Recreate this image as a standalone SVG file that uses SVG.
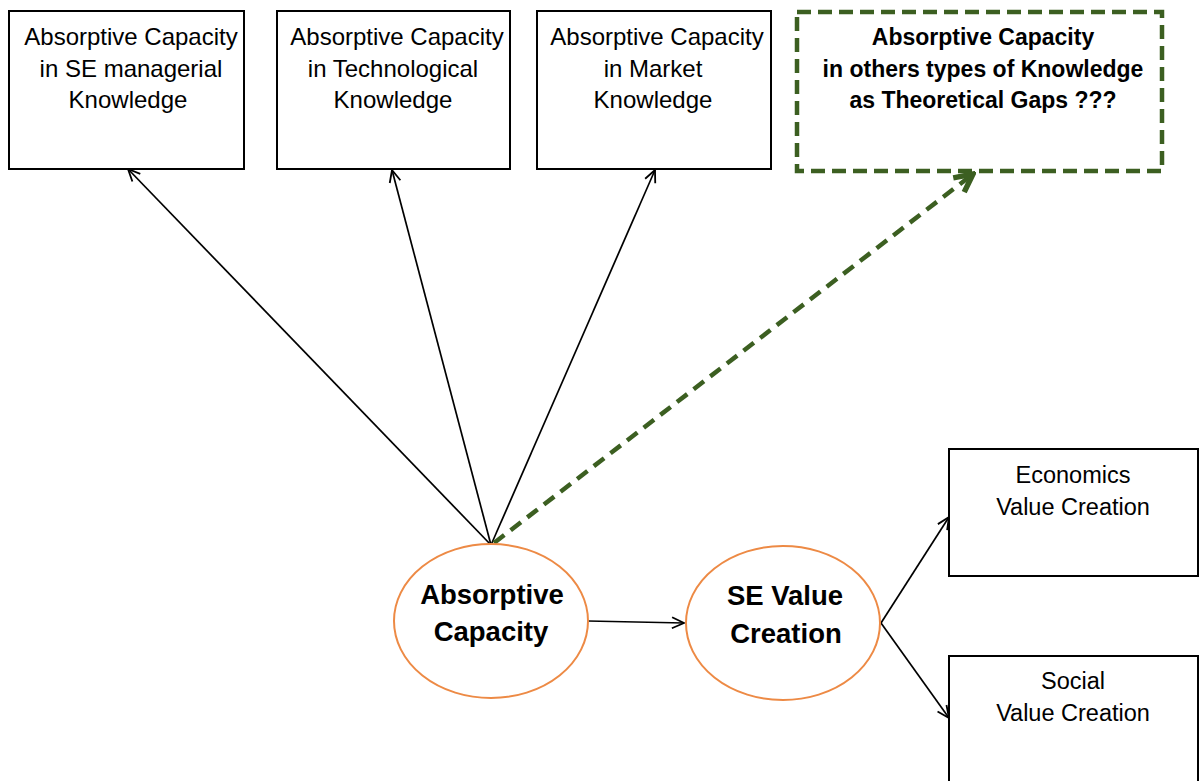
<svg xmlns="http://www.w3.org/2000/svg" width="1204" height="781" viewBox="0 0 1204 781">
<style>
.box{fill:#fff;stroke:#000;stroke-width:2}
.gap{fill:#fff;stroke:#3c5f21;stroke-width:4.5;stroke-dasharray:14,7}
.ell{fill:#fff;stroke:#ed8a45;stroke-width:2}
.t{font-family:"Liberation Sans",Arial,sans-serif;font-size:24px;fill:#000;text-anchor:middle}
.t2{font-family:"Liberation Sans",Arial,sans-serif;font-size:23.5px;fill:#000;text-anchor:middle}
.tb{font-family:"Liberation Sans",Arial,sans-serif;font-size:23px;font-weight:bold;fill:#000;text-anchor:middle}
.te{font-family:"Liberation Sans",Arial,sans-serif;font-size:27.5px;font-weight:bold;fill:#000;text-anchor:middle}
.c{stroke:#000;stroke-width:1.7;fill:none}
.g{stroke:#3c5f21;stroke-width:4.5;fill:none;stroke-dasharray:13,8}
</style>
<defs>
<marker id="ah" viewBox="0 0 14 14" refX="13" refY="7" markerWidth="14" markerHeight="14" markerUnits="userSpaceOnUse" orient="auto">
<path d="M1,1.5 L13,7 L1,12.5" fill="none" stroke="#000" stroke-width="1.8"/>
</marker>
<marker id="gh" viewBox="0 0 24 24" refX="21" refY="12" markerWidth="24" markerHeight="24" markerUnits="userSpaceOnUse" orient="auto">
<path d="M3,3 L21,12 L3,21" fill="none" stroke="#3c5f21" stroke-width="5.5"/>
</marker>
</defs>
<rect width="1204" height="781" fill="#fff"/>
<g id="connectors">
<line class="c" x1="491" y1="545" x2="128" y2="169" marker-end="url(#ah)"/>
<line class="c" x1="491" y1="545" x2="392" y2="170" marker-end="url(#ah)"/>
<line class="c" x1="491" y1="545" x2="655" y2="170" marker-end="url(#ah)"/>
<line class="g" x1="494" y1="543" x2="973" y2="174" marker-end="url(#gh)"/>
<line class="c" x1="588" y1="621" x2="684" y2="623" marker-end="url(#ah)"/>
<line class="c" x1="881" y1="623" x2="949" y2="517" marker-end="url(#ah)"/>
<line class="c" x1="881" y1="623" x2="949" y2="718" marker-end="url(#ah)"/>
</g>
<g id="box-se-managerial">
<rect class="box" x="9" y="11" width="235" height="158"/>
<text class="t" x="131" y="45">Absorptive Capacity</text>
<text class="t" x="131" y="77">in SE managerial</text>
<text class="t" x="128" y="108">Knowledge</text>
</g>
<g id="box-technological">
<rect class="box" x="277" y="11" width="233" height="158"/>
<text class="t" x="397" y="45">Absorptive Capacity</text>
<text class="t" x="393" y="77">in Technological</text>
<text class="t" x="393" y="108">Knowledge</text>
</g>
<g id="box-market">
<rect class="box" x="537" y="11" width="234" height="158"/>
<text class="t" x="657" y="45">Absorptive Capacity</text>
<text class="t" x="653" y="77">in Market</text>
<text class="t" x="653" y="108">Knowledge</text>
</g>
<g id="box-gaps">
<rect class="gap" x="797" y="12" width="365" height="159"/>
<text class="tb" x="983" y="45">Absorptive Capacity</text>
<text class="tb" x="983" y="77">in others types of Knowledge</text>
<text class="tb" x="983" y="108">as Theoretical Gaps ???</text>
</g>
<g id="ellipse-absorptive">
<ellipse class="ell" cx="491" cy="621" rx="97" ry="77"/>
<text class="te" x="492" y="604">Absorptive</text>
<text class="te" x="491" y="641">Capacity</text>
</g>
<g id="ellipse-se-value">
<ellipse class="ell" cx="783" cy="623" rx="97" ry="77"/>
<text class="te" x="785" y="605">SE Value</text>
<text class="te" x="786" y="643">Creation</text>
</g>
<g id="box-economics">
<rect class="box" x="949" y="449" width="249" height="127"/>
<text class="t2" x="1073" y="483">Economics</text>
<text class="t2" x="1073" y="515">Value Creation</text>
</g>
<g id="box-social">
<rect class="box" x="949" y="656" width="249" height="130"/>
<text class="t2" x="1073" y="689">Social</text>
<text class="t2" x="1073" y="721">Value Creation</text>
</g>
</svg>
